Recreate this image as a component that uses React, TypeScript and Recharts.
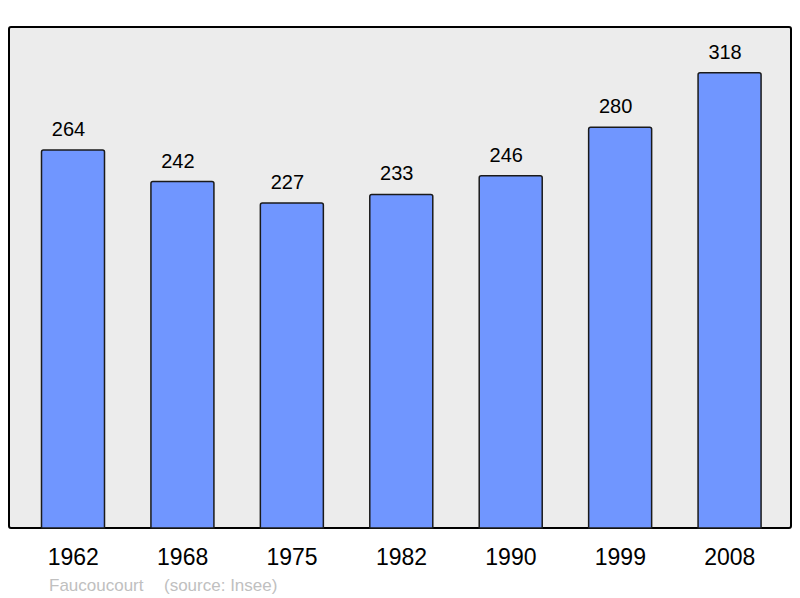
import React from 'react';
import { BarChart, Bar, XAxis, YAxis, LabelList } from 'recharts';

const years = ['1962', '1968', '1975', '1982', '1990', '1999', '2008'];
const population = [264, 242, 227, 233, 246, 280, 318];
const commune = 'Faucoucourt';
const source = '(source: Insee)';

const data = years.map((year, i) => ({ year, value: population[i] }));

const FONT = '"Liberation Sans", Arial, sans-serif';

export default function App() {
  return (
    <div style={{ position: 'absolute', left: 0, top: 0, width: 800, height: 598, background: '#fff', fontFamily: FONT }}>
      {/* plot frame */}
      <div
        style={{
          position: 'absolute',
          left: 8,
          top: 26,
          width: 784,
          height: 503,
          boxSizing: 'border-box',
          border: '2px solid #000',
          borderRadius: 3,
          background: '#ececec',
        }}
      />
      <div style={{ position: 'absolute', left: 0, top: 0 }}>
        <BarChart
          width={800}
          height={598}
          data={data}
          margin={{ top: 27, right: 15.5, left: 18.5, bottom: 0 }}
          barCategoryGap={0}
        >
          <XAxis
            dataKey="year"
            height={70}
            axisLine={false}
            tickLine={false}
            tickSize={0}
            tickMargin={21}
            interval={0}
            tick={{ fill: '#000', fontSize: 23, fontFamily: FONT }}
          />
          <YAxis hide domain={[0, 350]} />
          <Bar
            dataKey="value"
            barSize={63}
            fill="#7096ff"
            stroke="#1a1a1a"
            strokeWidth={1.5}
            radius={[2, 2, 0, 0]}
            isAnimationActive={false}
          >
            <LabelList
              dataKey="value"
              position="top"
              offset={14}
              dx={-4.5}
              fill="#000"
              fontSize={20}
              fontFamily={FONT}
            />
          </Bar>
        </BarChart>
      </div>
      <div style={{ position: 'absolute', left: 49, top: 577, fontSize: 17, lineHeight: 1, color: '#c0c0c0', whiteSpace: 'nowrap' }}>
        {commune}
      </div>
      <div style={{ position: 'absolute', left: 164, top: 577, fontSize: 17, lineHeight: 1, color: '#c0c0c0', whiteSpace: 'nowrap' }}>
        {source}
      </div>
    </div>
  );
}
